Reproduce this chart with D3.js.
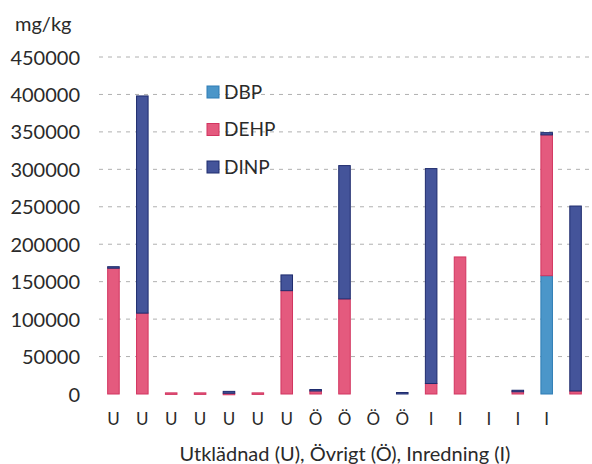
<!DOCTYPE html>
<html lang="sv">
<head>
    <meta charset="UTF-8">
    <title>Ftalater</title>
    <style>
        body{
            margin:0;
            background:#fff;
        }
        text{
            font-family: Lato, "Open Sans", sans-serif;
            fill:#2a2a2a;
        }
    </style>
    <script src="https://cdn.jsdelivr.net/npm/d3@7/dist/d3.min.js"></script>
</head>
<body>
<div id="container"></div>
<script>

var w = 592;
var h = 464;

// categories (last bar has no label)
var categories = ["U","U","U","U","U","U","U","Ö","Ö","Ö","Ö","I","I","I","I","I",""];
var seriesNames = ["DBP","DEHP","DINP"];

var dbp  = [0, 0, 0, 0, 0, 0, 0, 0, 0, 0, 0, 0, 0, 0, 0, 158000, 0];
var dehp = [168000, 108000, 1500, 1500, 1000, 1500, 138000, 4500, 127000, 0, 0, 14000, 183000, 0, 4000, 188000, 4000];
var dinp = [2000, 290000, 0, 0, 2500, 0, 21000, 1500, 178000, 0, 2000, 287000, 0, 0, 1000, 3000, 247000];

var yTicks = [0, 50000, 100000, 150000, 200000, 250000, 300000, 350000, 400000, 450000];

var colors = {DBP: "#4b96c9", DEHP: "#e45a7e", DINP: "#44549a"};
var strokes = {DBP: "#2f7db5", DEHP: "#d23560", DINP: "#1f2c6e"};

var margin = {top: 57, left: 99, right: 2, bottom: 70};

var rows = categories.map(function (c, i) {
    return {i: i, DBP: dbp[i], DEHP: dehp[i], DINP: dinp[i]};
});

var xScale = d3.scaleBand()
        .domain(d3.range(categories.length))
        .range([margin.left, w - margin.right])
        .paddingInner(0.6)
        .paddingOuter(0.3);

var yScale = d3.scaleLinear()
        .domain([0, 450000])
        .range([394, margin.top]);

var svg = d3.select("#container")
        .append("svg")
        .attr("width", w)
        .attr("height", h);

// gridlines
svg.append("g")
        .selectAll("line")
        .data(yTicks.slice(1))
        .enter()
        .append("line")
        .attr("x1", margin.left)
        .attr("x2", w - margin.right)
        .attr("y1", function (d) { return yScale(d); })
        .attr("y2", function (d) { return yScale(d); })
        .attr("stroke", "#b0b0b0")
        .attr("stroke-width", 1)
        .attr("stroke-dasharray", "4,5");

// y axis labels
var yAxis = d3.axisLeft(yScale).tickValues(yTicks).tickSize(0).tickPadding(0)
        .tickFormat(function (d) { return d; });
var gy = svg.append("g")
        .attr("transform", "translate(80,0)")
        .call(yAxis);
gy.select(".domain").remove();
gy.selectAll("text")
        .attr("font-size", "20px")
        .attr("font-family", "Lato, sans-serif")
        .attr("fill", "#2a2a2a")
        .attr("dy", "0.35em");

// stacked bars
var stack = d3.stack().keys(seriesNames);
var layers = stack(rows);

svg.append("g")
        .selectAll("g")
        .data(layers)
        .enter()
        .append("g")
        .attr("fill", function (d) { return colors[d.key]; })
        .attr("stroke", function (d) { return strokes[d.key]; })
        .selectAll("rect")
        .data(function (d) { return d.filter(function (s) { return s[1] - s[0] > 0; }); })
        .enter()
        .append("rect")
        .attr("x", function (d) { return xScale(d.data.i); })
        .attr("width", xScale.bandwidth())
        .attr("y", function (d) { return yScale(d[1]); })
        .attr("height", function (d) { return Math.max(1.5, yScale(d[0]) - yScale(d[1])); })
        .attr("stroke-width", 1);

// x axis labels
var xAxis = d3.axisBottom(xScale).tickSize(0).tickPadding(0)
        .tickFormat(function (i) { return categories[i]; });
var gx = svg.append("g")
        .attr("transform", "translate(0,413)")
        .call(xAxis);
gx.select(".domain").remove();
gx.selectAll("text")
        .attr("font-size", "17px")
        .attr("font-family", "Lato, sans-serif")
        .attr("fill", "#2a2a2a")
        .attr("dy", "0.71em");

// axis titles
svg.append("text")
        .attr("x", 15)
        .attr("y", 31)
        .attr("font-size", "20px")
        .text("mg/kg");

svg.append("text")
        .attr("x", 345)
        .attr("y", 461)
        .attr("text-anchor", "middle")
        .attr("font-size", "20px")
        .text("Utklädnad (U), Övrigt (Ö), Inredning (I)");

// legend
var legend = svg.append("g")
        .selectAll("g")
        .data(seriesNames)
        .enter()
        .append("g")
        .attr("transform", function (d, i) { return "translate(207," + (92 + i * 37.5) + ")"; });

legend.append("rect")
        .attr("x", 0)
        .attr("y", -6)
        .attr("width", 12)
        .attr("height", 12)
        .attr("fill", function (d) { return colors[d]; })
        .attr("stroke", function (d) { return strokes[d]; });

legend.append("text")
        .attr("x", 17)
        .attr("dy", "0.36em")
        .attr("font-size", "19px")
        .text(function (d) { return d; });

</script>
</body>
</html>
